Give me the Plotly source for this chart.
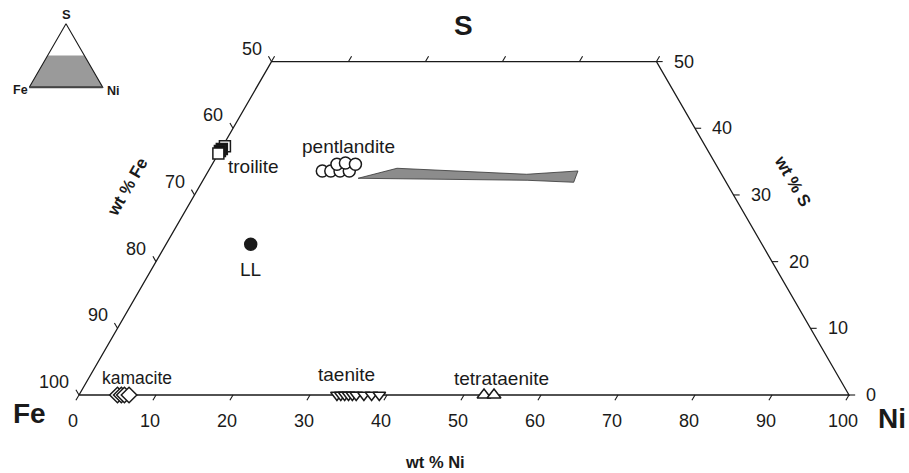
import numpy as np
import plotly.graph_objects as go

H = np.sqrt(3) / 2

# ---------------- data: wt% Ni and wt% S (Fe = 100 - Ni - S) ----------------
kamacite_ni = [5.0, 5.5, 5.9, 6.5]
kamacite_s = [0, 0, 0, 0]

taenite_ni = [33.5, 34.0, 34.5, 35.0, 35.5, 36.0, 37.0, 38.0, 39.0]
taenite_s = [0, 0, 0, 0, 0, 0, 0, 0, 0]

tetrataenite_ni = [52.6, 53.9]
tetrataenite_s = [0, 0]

troilite_ni = [0.3, 0.1, 0.0, 0.0]
troilite_s = [37.3, 36.9, 36.6, 36.2]
troilite_fill = ["white", "#111111", "#111111", "white"]

pentlandite_ni = [14.8, 15.9, 17.1, 18.3, 16.2, 17.2, 18.6]
pentlandite_s = [33.6, 33.6, 33.6, 33.6, 34.6, 34.8, 34.6]

ll_ni = [11.0]
ll_s = [22.6]

field_ni = [20.0, 24.3, 41.6, 48.0, 48.3, 42.1, 20.0]
field_s = [32.5, 34.0, 33.1, 33.6, 31.9, 32.2, 32.5]

# frame of the truncated diagram (S <= 50)
S_MAX = 50
frame_ni = [0, 100, 50, 0, 0]
frame_s = [0, 0, 50, 50, 0]

ni_ticks = [0, 10, 20, 30, 40, 50, 60, 70, 80, 90, 100]
top_ni_ticks = [0, 10, 20, 30, 40, 50]
fe_ticks = [50, 60, 70, 80, 90, 100]
s_ticks = [0, 10, 20, 30, 40, 50]

# inset (full triangle with shaded S <= 50 field)
inset_tri_ni = [0, 100, 0, 0]
inset_tri_s = [0, 0, 100, 0]
inset_fill_ni = [0, 100, 50, 0, 0]
inset_fill_s = [0, 0, 50, 50, 0]


def to_xy(ni, s):
    ni = np.asarray(ni, dtype=float)
    s = np.asarray(s, dtype=float)
    return ni + s / 2.0, s * H


FONT = "Liberation Sans, Arial, sans-serif"
BLACK = "#1a1a1a"
GRAY = "#8c8c8c"

fig = go.Figure()

# pentlandite field
fx, fy = to_xy(field_ni, field_s)
fig.add_trace(go.Scatter(x=fx, y=fy, mode="lines", fill="toself",
                         fillcolor=GRAY, line=dict(color="#333333", width=0.8),
                         hoverinfo="skip"))

# frame
x, y = to_xy(frame_ni, frame_s)
fig.add_trace(go.Scatter(x=x, y=y, mode="lines",
                         line=dict(color=BLACK, width=1.3), hoverinfo="skip"))

# ticks
L = 0.8


def segs(ni_list, s_list, d):
    xs, ys = [], []
    for ni, s in zip(ni_list, s_list):
        x0, y0 = to_xy(ni, s)
        xs += [float(x0), float(x0) + d[0] * L, None]
        ys += [float(y0), float(y0) + d[1] * L, None]
    return xs, ys


tx, ty = [], []
for nl, sl, d in [
    (ni_ticks, [0] * len(ni_ticks), (-0.5, -H)),
    (top_ni_ticks, [S_MAX] * len(top_ni_ticks), (0.5, H)),
    ([0] * len(fe_ticks), [100 - f for f in fe_ticks], (-0.5, H)),
    ([100 - s for s in s_ticks], s_ticks, (1.0, 0.0)),
]:
    a, b = segs(nl, sl, d)
    tx += a
    ty += b
fig.add_trace(go.Scatter(x=tx, y=ty, mode="lines",
                         line=dict(color=BLACK, width=1.1), hoverinfo="skip"))

# data markers
mk_line = dict(color=BLACK, width=1.5)
for ni, s, sym, size, fill in [
    (kamacite_ni, kamacite_s, "diamond", 12, "white"),
    (taenite_ni, taenite_s, "triangle-down", 11, "white"),
    (tetrataenite_ni, tetrataenite_s, "triangle-up", 12, "white"),
    (troilite_ni, troilite_s, "square", 11, troilite_fill),
    (pentlandite_ni, pentlandite_s, "circle", 12, "white"),
    (ll_ni, ll_s, "circle", 12, BLACK),
]:
    px_, py_ = to_xy(ni, s)
    fig.add_trace(go.Scatter(x=px_, y=py_, mode="markers",
                             marker=dict(symbol=sym, size=size, color=fill,
                                         line=mk_line),
                             hoverinfo="skip"))

ann = []
TF = dict(family=FONT, size=18, color=BLACK)
for n in ni_ticks:
    x0, y0 = to_xy(n, 0)
    ann.append(dict(x=float(x0), y=float(y0), text=str(n), showarrow=False,
                    xshift=-6, yshift=-26, font=TF))
for f in fe_ticks:
    x0, y0 = to_xy(0, 100 - f)
    ann.append(dict(x=float(x0), y=float(y0), text=str(f), showarrow=False,
                    xanchor="right", xshift=-8, yshift=13, font=TF))
for s in s_ticks:
    x0, y0 = to_xy(100 - s, s)
    ann.append(dict(x=float(x0), y=float(y0), text=str(s), showarrow=False,
                    xanchor="left", xshift=15, yshift=0, font=TF))

# phase labels (paper positions)
W, Hh = 909.0, 473.0


def pp(px, py):
    return px / W, 1 - py / Hh


for txt, (px, py), sz in [
    ("pentlandite", (348, 147), 19),
    ("troilite", (254, 166), 19),
    ("LL", (250, 269), 19),
    ("kamacite", (137, 378), 17.5),
    ("taenite", (346, 374), 19),
    ("tetrataenite", (501, 378), 19),
]:
    xp, yp = pp(px, py)
    ann.append(dict(x=xp, y=yp, xref="paper", yref="paper", text=txt,
                    showarrow=False, xanchor="center", yanchor="middle",
                    font=dict(family=FONT, size=sz, color=BLACK)))

# axis titles and corner labels
for txt, (px, py), sz, ang in [
    ("<b>wt % Ni</b>", (435, 462), 16.5, 0),
    ("<b>wt % Fe</b>", (127, 187), 17, -60),
    ("<b>wt % S</b>", (793, 181), 17, 60),
    ("<b>Fe</b>", (29, 413), 28, 0),
    ("<b>Ni</b>", (892, 418), 28, 0),
    ("<b>S</b>", (463, 25), 28, 0),
    ("<b>S</b>", (66, 14), 13, 0),
    ("<b>Fe</b>", (20, 90), 12.5, 0),
    ("<b>Ni</b>", (113, 91), 12.5, 0),
]:
    xp, yp = pp(px, py)
    ann.append(dict(x=xp, y=yp, xref="paper", yref="paper", text=txt,
                    showarrow=False, xanchor="center", yanchor="middle",
                    textangle=ang,
                    font=dict(family=FONT, size=sz, color=BLACK)))

# inset diagram on its own axes
ix, iy = to_xy(inset_fill_ni, inset_fill_s)
fig.add_trace(go.Scatter(x=ix, y=iy, mode="lines", fill="toself",
                         fillcolor="#9a9a9a", line=dict(color="#9a9a9a", width=0),
                         xaxis="x2", yaxis="y2", hoverinfo="skip"))
ix, iy = to_xy(inset_tri_ni, inset_tri_s)
fig.add_trace(go.Scatter(x=ix, y=iy, mode="lines",
                         line=dict(color=BLACK, width=1.1),
                         xaxis="x2", yaxis="y2", hoverinfo="skip"))
ix, iy = to_xy([0, 100], [0, 0])
fig.add_trace(go.Scatter(x=ix, y=iy, mode="lines",
                         line=dict(color="#444444", width=2),
                         xaxis="x2", yaxis="y2", hoverinfo="skip"))

# main scale: 7.7 px per unit, Fe corner at px (79, 395)
k = 7.7
k2 = 0.734
fig.update_layout(
    width=909, height=473,
    margin=dict(l=0, r=0, t=0, b=0),
    paper_bgcolor="white", plot_bgcolor="white",
    showlegend=False,
    annotations=ann,
    xaxis=dict(range=[-79 / k, (909 - 79) / k], visible=False,
               domain=[0, 1], fixedrange=True),
    yaxis=dict(range=[-(473 - 395) / k, 395 / k], visible=False,
               domain=[0, 1], fixedrange=True),
    xaxis2=dict(domain=[19 / W, 113 / W],
                range=[-(29.3 - 19) / k2, (113 - 29.3) / k2],
                visible=False, anchor="y2", fixedrange=True),
    yaxis2=dict(domain=[1 - 97 / Hh, 1 - 15 / Hh],
                range=[-(97 - 87.3) / k2, (87.3 - 15) / k2],
                visible=False, anchor="x2", fixedrange=True),
)

fig.write_html("out.html")
